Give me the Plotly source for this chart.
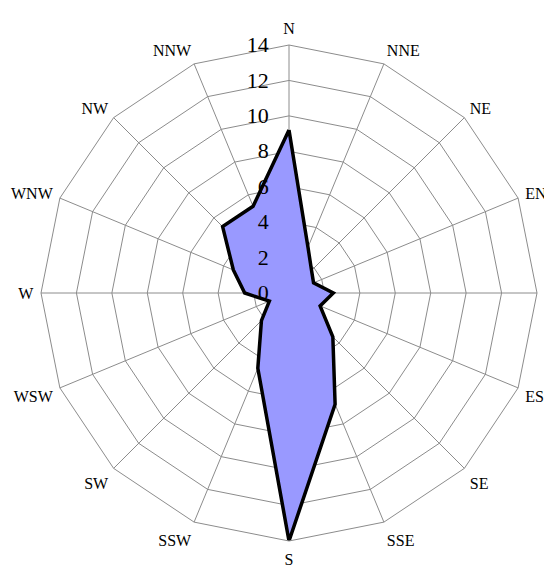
import plotly.graph_objects as go

directions = ["N", "NNE", "NE", "ENE", "E", "ESE", "SE", "SSE",
              "S", "SSW", "SW", "WSW", "W", "WNW", "NW", "NNW"]
frequency = [9.2, 2.8, 1.8, 1.5, 2.5, 1.9, 3.5, 6.8,
             14.0, 4.6, 2.2, 1.2, 2.5, 3.4, 5.3, 5.3]
radial_ticks = [0, 2, 4, 6, 8, 10, 12, 14]

font_family = "Liberation Serif"

fig = go.Figure()
fig.add_trace(go.Scatterpolar(
    r=frequency + [frequency[0]],
    theta=directions + [directions[0]],
    mode="lines",
    fill="toself",
    fillcolor="#9999ff",
    line=dict(color="black", width=3.5),
    hoverinfo="skip",
))

fig.update_layout(
    width=552, height=577,
    margin=dict(l=33, r=23, t=37, b=44),
    paper_bgcolor="white",
    showlegend=False,
    polar=dict(
        bgcolor="white",
        gridshape="linear",
        angularaxis=dict(
            direction="clockwise",
            rotation=90,
            type="category",
            categoryarray=directions,
            showline=True,
            linecolor="#8c8c8c",
            linewidth=1,
            gridcolor="#8c8c8c",
            gridwidth=1,
            ticks="outside",
            ticklen=4,
            tickcolor="rgba(0,0,0,0)",
            tickfont=dict(family=font_family, size=16, color="black"),
        ),
        radialaxis=dict(
            range=[0, 14],
            tickvals=radial_ticks,
            ticktext=[str(v) for v in radial_ticks],
            angle=90,
            tickangle=90,
            side="counterclockwise",
            showline=False,
            gridcolor="#8c8c8c",
            gridwidth=1,
            ticks="outside",
            ticklen=12,
            tickcolor="rgba(0,0,0,0)",
            tickfont=dict(family=font_family, size=22, color="black"),
        ),
    ),
)

fig.write_html("out.html")
